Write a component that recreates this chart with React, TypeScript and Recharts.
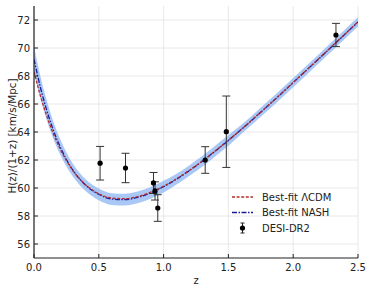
import React from 'react';
import {
  ComposedChart, Line, Area, Scatter, XAxis, YAxis, CartesianGrid, ErrorBar,
} from 'recharts';

const zGrid = [0, 0.05, 0.1, 0.15, 0.2, 0.25, 0.3, 0.4, 0.5, 0.6, 0.7, 0.8, 0.9, 1.0, 1.1, 1.2, 1.3, 1.4, 1.5, 1.6, 1.7, 1.8, 1.9, 2.0, 2.1, 2.2, 2.3, 2.4, 2.5];
const lcdmValues = [68.30, 66.57, 65.10, 63.86, 62.83, 61.96, 61.25, 60.21, 59.59, 59.28, 59.24, 59.39, 59.70, 60.13, 60.66, 61.27, 61.94, 62.66, 63.41, 64.20, 65.01, 65.84, 66.68, 67.54, 68.40, 69.26, 70.13, 71.00, 71.87];
const nashValues = [69.20, 67.17, 65.50, 64.11, 62.98, 62.04, 61.28, 60.19, 59.55, 59.21, 59.17, 59.33, 59.65, 60.09, 60.63, 61.25, 61.92, 62.65, 63.40, 64.19, 65.00, 65.83, 66.67, 67.53, 68.39, 69.25, 70.12, 70.99, 71.86];
const bandLow = [68.30, 66.37, 64.80, 63.49, 62.43, 61.54, 60.83, 59.77, 59.13, 58.79, 58.75, 58.91, 59.23, 59.67, 60.25, 60.87, 61.54, 62.27, 63.02, 63.86, 64.67, 65.50, 66.34, 67.20, 68.06, 68.92, 69.79, 70.66, 71.53];
const bandHigh = [70.10, 67.97, 66.20, 64.73, 63.53, 62.54, 61.73, 60.61, 59.97, 59.63, 59.59, 59.75, 60.07, 60.51, 61.01, 61.63, 62.30, 63.03, 63.78, 64.52, 65.33, 66.16, 67.00, 67.86, 68.72, 69.58, 70.45, 71.32, 72.19];

const desiZ = [0.51, 0.706, 0.922, 0.934, 0.955, 1.321, 1.484, 2.33];
const desiH = [61.77, 61.43, 60.36, 59.79, 58.57, 62.0, 64.02, 70.93];
const desiErr = [1.2, 1.05, 0.75, 0.65, 0.95, 0.95, 2.55, 0.83];

const xTicks = [0, 0.5, 1.0, 1.5, 2.0, 2.5];
const yTicks = [56, 58, 60, 62, 64, 66, 68, 70, 72];

const curveData = zGrid.map((z, i) => ({
  z,
  lcdm: lcdmValues[i],
  nash: nashValues[i],
  band: [bandLow[i], bandHigh[i]],
}));
const desiData = desiZ.map((z, i) => ({ z, H: desiH[i], err: desiErr[i] }));

const FONT = '"DejaVu Sans", sans-serif';
const INK = '#222';
const RED = '#b5302b';
const BLUE = '#1a1a9e';
const txt = { fontFamily: FONT, fontSize: 10 };

const BottomTick = (props: any) => {
  const { x, y, payload } = props;
  return (
    <g>
      <line x1={x} x2={x} y1={y} y2={y - 4} stroke={INK} strokeWidth={1} />
      <text x={x} y={y + 12.5} textAnchor="middle" style={txt} fill={INK}>
        {Number(payload.value).toFixed(1)}
      </text>
    </g>
  );
};
const TopTick = (props: any) => {
  const { x, y } = props;
  return <line x1={x} x2={x} y1={y} y2={y + 4} stroke={INK} strokeWidth={1} />;
};
const LeftTick = (props: any) => {
  const { x, y, payload } = props;
  return (
    <g>
      <line x1={x} x2={x + 4} y1={y} y2={y} stroke={INK} strokeWidth={1} />
      <text x={x - 4} y={y + 3.5} textAnchor="end" style={txt} fill={INK}>
        {payload.value}
      </text>
    </g>
  );
};
const RightTick = (props: any) => {
  const { x, y } = props;
  return <line x1={x} x2={x - 4} y1={y} y2={y} stroke={INK} strokeWidth={1} />;
};

const Dot = (props: any) => <circle cx={props.cx} cy={props.cy} r={2.6} fill="#000" />;

const LegendBox = () => (
  <svg width={120} height={50} style={{ display: 'block' }}>
    <line x1={4} x2={25} y1={9} y2={9} stroke={RED} strokeWidth={1.3} strokeDasharray="3 1.6" />
    <text x={34} y={12.5} style={txt} fill={INK}>Best-fit ΛCDM</text>
    <line x1={4} x2={25} y1={24.5} y2={24.5} stroke={BLUE} strokeWidth={1.3} strokeDasharray="5 1.5 1.5 1.5" />
    <text x={34} y={28} style={txt} fill={INK}>Best-fit NASH</text>
    <line x1={14.5} x2={14.5} y1={35} y2={45} stroke={INK} strokeWidth={1} />
    <line x1={12.5} x2={16.5} y1={35} y2={35} stroke={INK} strokeWidth={1} />
    <line x1={12.5} x2={16.5} y1={45} y2={45} stroke={INK} strokeWidth={1} />
    <circle cx={14.5} cy={40} r={2.6} fill="#000" />
    <text x={34} y={43.5} style={txt} fill={INK}>DESI-DR2</text>
  </svg>
);

export default function App() {
  return (
    <div style={{ position: 'absolute', left: 0, top: 0, width: 373, height: 290, background: '#fff' }}>
      <ComposedChart width={373} height={290} margin={{ top: 6, right: 15, bottom: 0, left: 0 }}>
        <CartesianGrid stroke="#e2e2e2" strokeWidth={0.8} verticalValues={xTicks} horizontalValues={yTicks} />
        <XAxis
          type="number" dataKey="z" domain={[0, 2.5]} ticks={xTicks} allowDataOverflow interval={0}
          height={32} tickSize={0} tickMargin={0} tickLine={false}
          axisLine={{ stroke: INK, strokeWidth: 1.2 }} tick={<BottomTick />}
          label={{ value: 'z', position: 'insideBottom', offset: 6, style: txt, fill: INK }}
        />
        <XAxis
          xAxisId="top" orientation="top" type="number" dataKey="z" domain={[0, 2.5]} ticks={xTicks} interval={0}
          height={0} tickSize={0} tickMargin={0} tickLine={false}
          axisLine={{ stroke: INK, strokeWidth: 1.2 }} tick={<TopTick />}
        />
        <YAxis
          type="number" domain={[55, 73]} ticks={yTicks} allowDataOverflow width={34} interval={0}
          tickSize={0} tickMargin={0} tickLine={false}
          axisLine={{ stroke: INK, strokeWidth: 1.2 }} tick={<LeftTick />}
        />
        <YAxis
          yAxisId="right" orientation="right" type="number" domain={[55, 73]} ticks={yTicks} width={0} interval={0}
          tickSize={0} tickMargin={0} tickLine={false}
          axisLine={{ stroke: INK, strokeWidth: 1.2 }} tick={<RightTick />}
        />
        <Area
          data={curveData} dataKey="band" type="monotone" stroke="none" fill="#8db6f2" fillOpacity={0.75}
          isAnimationActive={false} legendType="none"
        />
        <Line
          data={curveData} dataKey="nash" type="monotone" stroke={BLUE} strokeWidth={1.3}
          strokeDasharray="5 1.5 1.5 1.5" dot={false} isAnimationActive={false}
        />
        <Line
          data={curveData} dataKey="lcdm" type="monotone" stroke={RED} strokeWidth={1.3}
          strokeDasharray="3 1.6" dot={false} isAnimationActive={false}
        />
        <Scatter data={desiData} dataKey="H" shape={<Dot />} isAnimationActive={false}>
          <ErrorBar dataKey="err" direction="y" width={4} stroke="#333" strokeWidth={1} />
        </Scatter>
      </ComposedChart>
      <svg width={22} height={290} style={{ position: 'absolute', left: 0, top: 0 }}>
        <text x={16} y={136} transform="rotate(-90 16 136)" textAnchor="middle" style={{ fontFamily: FONT, fontSize: 10.4 }} fill={INK}>
          H(z)/(1+z) [km/s/Mpc]
        </text>
      </svg>
      <div style={{ position: 'absolute', left: 228, top: 188 }}>
        <LegendBox />
      </div>
    </div>
  );
}
